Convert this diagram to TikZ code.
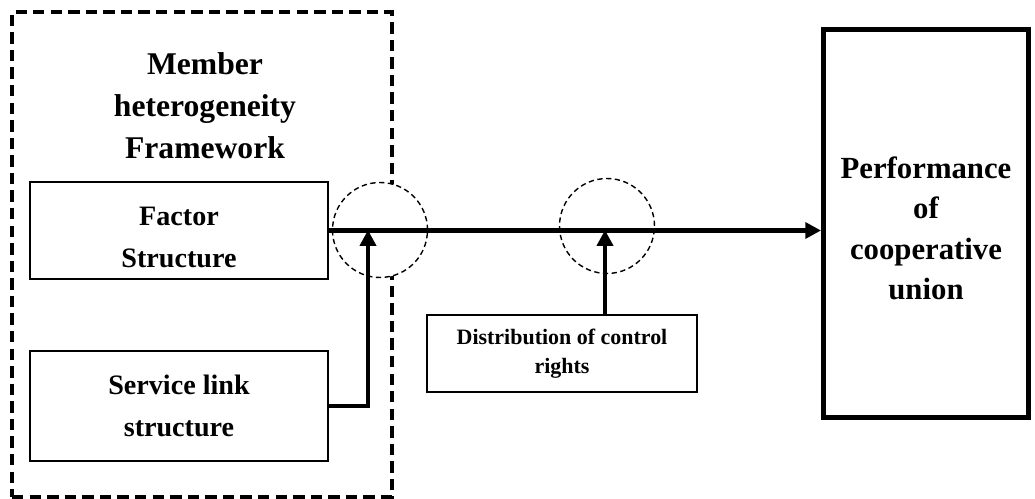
\documentclass[tikz,border=0pt]{standalone}
\usepackage{fontspec}
\setmainfont{Liberation Serif}
\usetikzlibrary{arrows.meta,positioning}

\begin{document}
\begin{tikzpicture}[x=0.02cm, y=-0.02cm,
		frame/.style  = {draw, line width=2.3pt, dash pattern=on 6.5pt off 3.5pt, minimum width=7.6cm, minimum height=9.7cm},
		ring/.style   = {draw, fill=white, circle, line width=0.8pt, dash pattern=on 3pt off 2pt, minimum size=1.9cm},
		box/.style    = {draw, line width=1pt, align=center, font=\bfseries\fontsize{16}{24}\selectfont, minimum width=5.96cm},
		small/.style  = {draw, line width=1pt, align=center, font=\bfseries\fontsize{12.5}{16.5}\selectfont, minimum width=5.4cm, minimum height=1.54cm},
		result/.style = {draw, line width=2.8pt, align=center, font=\bfseries\fontsize{17.5}{23}\selectfont, minimum width=4.1cm, minimum height=7.75cm},
		link/.style   = {line width=2.5pt, -{Triangle[length=9pt, width=9pt]}},
		>=latex]
		
		\useasboundingbox (0,0) rectangle (1035,499);
		
		\node[frame] (hetero) at (202,254.5) {};
		\node[align=center, font=\bfseries\fontsize{18}{24}\selectfont] (title) at (205,106) {Member\\heterogeneity\\Framework};
		
		\node[ring] (r1) at (380,230) {};
		\node[ring] (r2) at (607,226) {};
		
		\node[box, minimum height=1.94cm] (factor) at (179,230.5) {\rule{0pt}{18pt}Factor\\Structure};
		\node[box, minimum height=2.2cm] (service) at (179,406) {Service link\\structure};
		\node[small] (control) at (562,353.5) {Distribution of control\\rights};
		\node[result] (perf) at (926,223.5) {\rule{0pt}{18pt}Performance\\of\\cooperative\\union};
		
		\coordinate (j1) at (368,230);
		\coordinate (j2) at (605,230);
		
		\draw[link] (factor.east) -- (factor.east -| perf.west);
		\draw[link] (service.east) -| (j1);
		\draw[link] (j2 |- control.north) -- (j2);
		
	\end{tikzpicture}
\end{document}
